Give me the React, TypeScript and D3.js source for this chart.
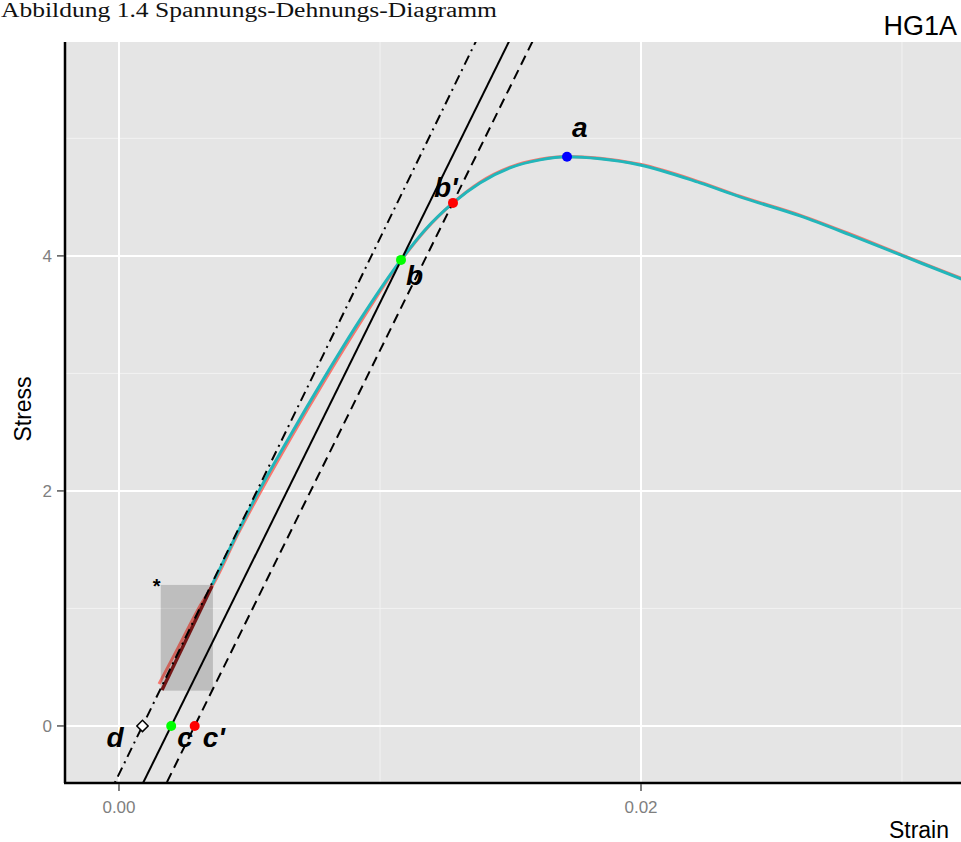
import React from "react";
import * as d3 from "d3";

const W = 961;
const H = 842;

// Axis ticks
const xTicks = [0, 0.02];
const xTickLabels = ["0.00", "0.02"];
const xMinor = [0.01, 0.03];
const yTicks = [0, 2, 4];
const yTickLabels = ["0", "2", "4"];
const yMinor = [1, 3, 5];

// Measured curve (teal series)
const tealStrain = [0.003563, 0.004444, 0.005364, 0.006552, 0.007816, 0.009234, 0.010805, 0.011724, 0.012797, 0.013831, 0.014981, 0.01613, 0.017165, 0.018429, 0.019962, 0.022261, 0.023793, 0.026092, 0.028008, 0.030038, 0.032261, 0.033];
const tealStress = [1.2, 1.6, 2.0, 2.468, 2.945, 3.455, 3.966, 4.221, 4.451, 4.621, 4.749, 4.817, 4.843, 4.826, 4.774, 4.621, 4.502, 4.34, 4.179, 4.0, 3.804, 3.74];

// Measured curve (red series)
const redStrain = [0.001533, 0.002261, 0.003103, 0.00364, 0.004521, 0.005441, 0.006628, 0.007893, 0.00931, 0.010824, 0.011743, 0.012797, 0.013831, 0.014981, 0.01613, 0.017165, 0.018429, 0.019962, 0.022261, 0.023793, 0.026092, 0.028008, 0.030038, 0.032261, 0.033];
const redStress = [0.357, 0.664, 1.021, 1.217, 1.617, 2.0, 2.468, 2.945, 3.455, 3.966, 4.221, 4.451, 4.627, 4.755, 4.822, 4.846, 4.83, 4.779, 4.628, 4.508, 4.347, 4.186, 4.005, 3.81, 3.745];

// Fit region segment (dark red)
const fitStrain = [0.001648, 0.003563];
const fitStress = [0.306, 1.191];

// Highlight rectangle
const rectStrain = [0.0016, 0.0036];
const rectStress = [0.3, 1.2];

// Straight lines: x-intercept and slope
const lineNames = ["dotdash", "solid", "dashed"];
const lineIntercepts = [0.0009, 0.002, 0.0029];
const lineSlopes = [456, 450, 450];
const lineDash = ["10,5,2,5", "", "10,6"];

// Marked points
const pointNames = ["a", "b", "b'", "c", "c'"];
const pointStrain = [0.017165, 0.010805, 0.012797, 0.002, 0.0029];
const pointStress = [4.843, 3.966, 4.451, 0, 0];
const pointColors = ["#0000FF", "#00FF00", "#FF0000", "#00FF00", "#FF0000"];
const labelDx = [5, 5, -19, 6, 8];
const labelDy = [-20, 25, -6, 21, 21];

const dStrain = 0.0009;
const dStress = 0;

export default function App() {
  const left = 66, right = 961, top = 42, bottom = 782;
  const x = d3.scaleLinear().domain([-0.00203, 0.03226]).range([left, right]);
  const y = d3.scaleLinear().domain([-0.477, 5.82]).range([bottom, top]);

  const line = d3
    .line<[number, number]>()
    .x((d) => x(d[0]))
    .y((d) => y(d[1]))
    .curve(d3.curveMonotoneX);
  const straight = d3
    .line<[number, number]>()
    .x((d) => x(d[0]))
    .y((d) => y(d[1]));

  const teal = tealStrain.map((s, i) => [s, tealStress[i]] as [number, number]);
  const red = redStrain.map((s, i) => [s, redStress[i]] as [number, number]);
  const fit = fitStrain.map((s, i) => [s, fitStress[i]] as [number, number]);

  const labelFont = "'Liberation Sans', Arial, Helvetica, sans-serif";

  return (
    <svg width={W} height={H} style={{ position: "absolute", left: 0, top: 0, background: "#fff" }}>
      <defs>
        <clipPath id="panel">
          <rect x={left} y={top} width={right - left} height={bottom - top} />
        </clipPath>
      </defs>
      <text
        x={1}
        y={17}
        fontFamily="'Liberation Serif', 'DejaVu Serif', serif"
        fontSize={20}
        textLength={496}
        lengthAdjust="spacingAndGlyphs"
        fill="#111"
      >
        Abbildung 1.4 Spannungs-Dehnungs-Diagramm
      </text>
      <text x={957} y={35} textAnchor="end" fontFamily={labelFont} fontSize={27} fill="#000">
        HG1A
      </text>

      <rect x={left} y={top} width={right - left} height={bottom - top} fill="#E5E5E5" />
      <g clipPath="url(#panel)">
        {xMinor.map((t) => (
          <line key={"xm" + t} x1={x(t)} x2={x(t)} y1={top} y2={bottom} stroke="#F2F2F2" strokeWidth={1} />
        ))}
        {yMinor.map((t) => (
          <line key={"ym" + t} x1={left} x2={right} y1={y(t)} y2={y(t)} stroke="#F2F2F2" strokeWidth={1} />
        ))}
        {xTicks.map((t) => (
          <line key={"xg" + t} x1={x(t)} x2={x(t)} y1={top} y2={bottom} stroke="#fff" strokeWidth={2} />
        ))}
        {yTicks.map((t) => (
          <line key={"yg" + t} x1={left} x2={right} y1={y(t)} y2={y(t)} stroke="#fff" strokeWidth={2} />
        ))}

        <path d={line(red) || ""} fill="none" stroke="#F8766D" strokeWidth={3} />
        <path d={line(teal) || ""} fill="none" stroke="#22B6BA" strokeWidth={3} />
        <path d={straight(fit) || ""} fill="none" stroke="#8B1A1A" strokeWidth={3.5} />

        <rect
          x={x(rectStrain[0])}
          y={y(rectStress[1])}
          width={x(rectStrain[1]) - x(rectStrain[0])}
          height={y(rectStress[0]) - y(rectStress[1])}
          fill="#000"
          fillOpacity={0.17}
        />

        {lineNames.map((n, i) => {
          const s0 = -0.6, s1 = 6.2;
          const pts: [number, number][] = [
            [lineIntercepts[i] + s0 / lineSlopes[i], s0],
            [lineIntercepts[i] + s1 / lineSlopes[i], s1],
          ];
          return (
            <path
              key={n}
              d={straight(pts) || ""}
              fill="none"
              stroke="#000"
              strokeWidth={2}
              strokeDasharray={lineDash[i] || undefined}
            />
          );
        })}

        <rect
          x={x(dStrain) - 4}
          y={y(dStress) - 4}
          width={8}
          height={8}
          transform={`rotate(45 ${x(dStrain)} ${y(dStress)})`}
          fill="#fff"
          stroke="#000"
          strokeWidth={1.5}
        />
        <text
          x={x(dStrain) - 36}
          y={y(dStress) + 21}
          fontFamily={labelFont}
          fontSize={28}
          fontWeight="bold"
          fontStyle="italic"
        >
          d
        </text>

        {pointNames.map((n, i) => (
          <g key={n}>
            <circle cx={x(pointStrain[i])} cy={y(pointStress[i])} r={5} fill={pointColors[i]} />
            <text
              x={x(pointStrain[i]) + labelDx[i]}
              y={y(pointStress[i]) + labelDy[i]}
              fontFamily={labelFont}
              fontSize={28}
              fontWeight="bold"
              fontStyle="italic"
            >
              {n}
            </text>
          </g>
        ))}

        <text
          x={x(rectStrain[0]) - 4}
          y={y(rectStress[1]) + 8}
          textAnchor="middle"
          fontFamily={labelFont}
          fontSize={20}
          fontWeight="bold"
        >
          *
        </text>
      </g>

      {/* axes */}
      <line x1={left - 1} x2={left - 1} y1={top} y2={bottom + 1} stroke="#000" strokeWidth={2.5} />
      <line x1={left - 2} x2={right} y1={bottom + 1} y2={bottom + 1} stroke="#000" strokeWidth={2.5} />
      {yTicks.map((t, i) => (
        <g key={"yt" + t}>
          <line x1={left - 9} x2={left - 2} y1={y(t)} y2={y(t)} stroke="#555" strokeWidth={1.5} />
          <text x={left - 14} y={y(t) + 6} textAnchor="end" fontFamily={labelFont} fontSize={17} fill="#7F7F7F">
            {yTickLabels[i]}
          </text>
        </g>
      ))}
      {xTicks.map((t, i) => (
        <g key={"xt" + t}>
          <line x1={x(t)} x2={x(t)} y1={bottom + 2} y2={bottom + 9} stroke="#555" strokeWidth={1.5} />
          <text x={x(t)} y={813} textAnchor="middle" fontFamily={labelFont} fontSize={17} fill="#7F7F7F">
            {xTickLabels[i]}
          </text>
        </g>
      ))}
      <text x={949} y={838} textAnchor="end" fontFamily={labelFont} fontSize={23} fill="#000">
        Strain
      </text>
      <text
        transform={`translate(31, 409) rotate(-90)`}
        textAnchor="middle"
        fontFamily={labelFont}
        fontSize={23}
        fill="#000"
      >
        Stress
      </text>
    </svg>
  );
}
